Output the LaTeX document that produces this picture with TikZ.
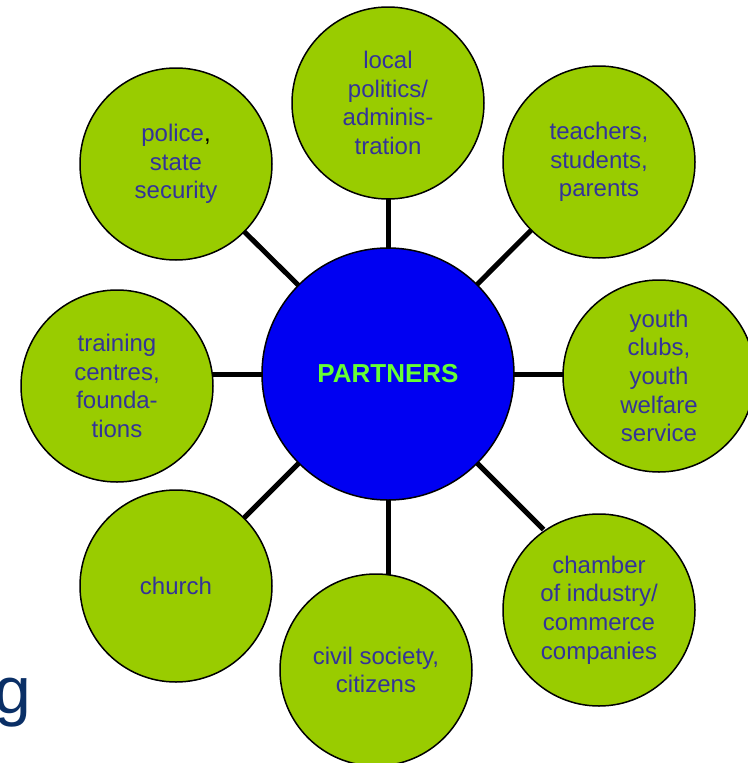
\documentclass[tikz,border=0pt]{standalone}
\usepackage{fontspec}
\setmainfont{Liberation Sans}
\usetikzlibrary{backgrounds,calc}
\definecolor{leaf}{HTML}{99CC00}
\definecolor{hub}{HTML}{0000F2}
\definecolor{hubtext}{HTML}{66FF33}
\definecolor{labeltext}{HTML}{333399}
\definecolor{titletext}{HTML}{0A2F66}
\tikzset{
  partner/.style={circle, draw=black, line width=1.5pt, fill=leaf, minimum size=192pt,
    inner sep=0pt, align=center, text=labeltext,
    font=\fontsize{24pt}{28.7pt}\selectfont},
  hubnode/.style={circle, draw=black, line width=1.5pt, fill=hub, minimum size=252pt,
    inner sep=0pt, text=hubtext, font=\fontsize{26pt}{30pt}\selectfont\bfseries},
  link/.style={line width=5pt, draw=black}
}
\begin{document}
\begin{tikzpicture}[x=1pt,y=-1pt]
\useasboundingbox (0,0) rectangle (747,763);
\node[hubnode] (P) at (388,374) {PARTNERS};
\node[partner] (top) at (388,103) {local\\politics/\\adminis-\\tration};
\node[partner] (teach) at (599,162) {teachers,\\students,\\parents};
\node[partner] (pol) at (176,164) {police{\color{black},}\\state\\security};
\node[partner] (youth) at (659,376) {youth\\clubs,\\youth\\welfare\\service};
\node[partner] (train) at (117,386) {training\\centres,\\founda-\\tions};
\node[partner] (church) at (176,586) {church};
\node[partner] (civ) at (376,670) {civil society,\\citizens};
\node[partner] (cham) at (599,610) {chamber\\of industry/\\commerce\\companies};
\node[anchor=base east, inner sep=0pt, text=titletext,
      font=\fontsize{66pt}{70pt}\selectfont] (title) at (31,713) {g};
\coordinate (chamE) at ($(P.center)+(-45:220pt)$);
\begin{pgfonlayer}{background}
\draw[link] (P.center) -- (P.center |- top.center);
\draw[link] (P.center) -- (teach.center);
\draw[link] (P.center) -- (pol.center);
\draw[link] (P.center) -- (P.center -| youth.center);
\draw[link] (P.center) -- (P.center -| train.center);
\draw[link] (P.center) -- (church.center);
\draw[link] (P.center) -- (P.center |- civ.center);
\draw[link] (P.center) -- (chamE);
\end{pgfonlayer}
\end{tikzpicture}
\end{document}
